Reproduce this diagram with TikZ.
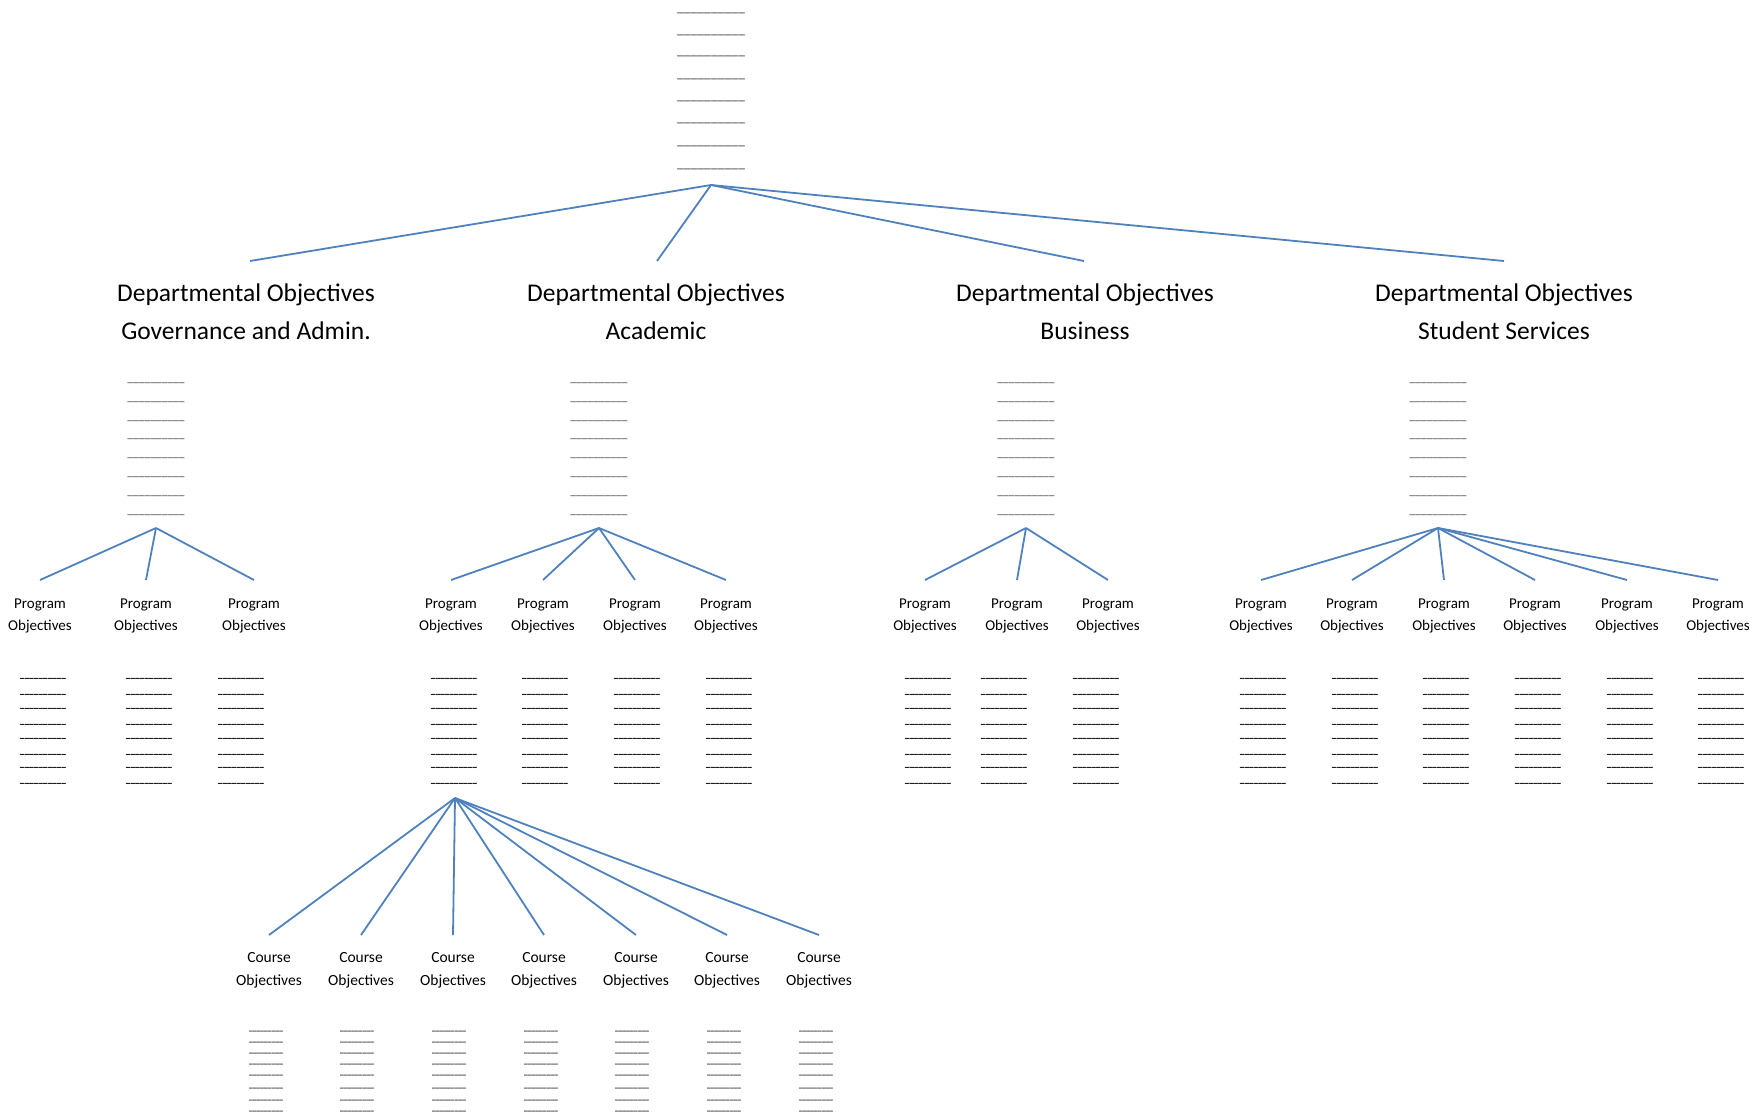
\documentclass[tikz,border=0pt]{standalone}
\usepackage{fontspec}
\setmainfont{Carlito}
\definecolor{linkblue}{RGB}{79,129,189}
\definecolor{dashgray}{RGB}{115,115,115}
\definecolor{dashdark}{RGB}{30,30,30}
\definecolor{dashmid}{RGB}{60,60,60}
\newcommand\dashrun[1]{\foreach\i in {1,...,#1}{–\kern-0.13em}\kern0.13em}
\begin{document}
\begin{tikzpicture}[x=1pt,y=-1pt,
  conn/.style={draw=linkblue,line width=1.8pt},
  dept/.style={align=center,inner sep=0pt,font=\fontsize{25.5}{38}\selectfont},
  prog/.style={align=center,inner sep=0pt,font=\fontsize{15}{22}\selectfont},
  course/.style={align=center,inner sep=0pt,font=\fontsize{15.5}{23}\selectfont},
  dashbase/.style={inner sep=0pt,anchor=base},
  topdash/.style={dashbase,yshift=-4.8pt,text=dashgray,font=\fontsize{18.5}{14}\selectfont},
  deptdash/.style={dashbase,yshift=-4pt,text=dashgray,font=\fontsize{15.5}{14}\selectfont},
  progdash/.style={dashbase,yshift=-3.3pt,text=dashdark,font=\bfseries\fontsize{12.5}{12}\selectfont},
  coursedash/.style={dashbase,yshift=-2.7pt,text=dashmid,font=\bfseries\fontsize{10.3}{10}\selectfont}]
\useasboundingbox (0,0) rectangle (1752,1117);

% top stack
\foreach \y [count=\k] in {14,36,57,80,102,124,147,170}
  \node[topdash] (top-\k) at (711,\y) {\dashrun{10}};
\coordinate (topj) at (711,185);

% departments
\foreach \x/\y/\t [count=\c] in {246/312/Governance and Admin.,656/312/Academic,1085/312/Business,1504/312/Student Services}
  \node[dept] (d\c) at (\x,\y) {Departmental Objectives\\\t};
\foreach \x [count=\c] in {250,657,1084,1504}
  \coordinate (dt\c) at (\x,261);
\foreach \c in {1,...,4}
  \draw[conn] (topj) -- (dt\c);

% department stacks
\foreach \x [count=\c] in {156,599,1026,1438}{
  \foreach \y [count=\k] in {383,402,421,439,458,477,496,515}
    \node[deptdash] (dd\c-\k) at (\x,\y) {\dashrun{10}};
  \coordinate (g\c) at (\x,528);
}

% program objectives
\foreach \x [count=\c] in {40,146,254,451,543,635,726,925,1017,1108,1261,1352,1444,1535,1627,1718}{
  \node[prog] (p\c) at (\x,616) {Program\\Objectives};
  \coordinate (pt\c) at (\x,580);
}
\foreach \c in {1,2,3} \draw[conn] (g1) -- (pt\c);
\foreach \c in {4,5,6,7} \draw[conn] (g2) -- (pt\c);
\foreach \c in {8,9,10} \draw[conn] (g3) -- (pt\c);
\foreach \c in {11,...,16} \draw[conn] (g4) -- (pt\c);

% program stacks
\foreach \x [count=\c] in {43,149,241,454,545,637,729,928,1004,1096,1263,1355,1446,1538,1630,1721}
  \foreach \y [count=\k] in {679,695,709,725,739,755,768,784}
    \node[progdash] (pd\c-\k) at (\x,\y) {\dashrun{10}};

% course objectives
\coordinate (cj) at (455,798);
\foreach \x [count=\c] in {269,361,453,544,636,727,819}{
  \node[course] (co\c) at (\x,970.5) {Course\\Objectives};
  \coordinate (ct\c) at (\x,935);
  \draw[conn] (cj) -- (ct\c);
}
\foreach \x [count=\c] in {266,357,449,541,632,724,816}
  \foreach \y [count=\k] in {1032,1043,1054,1065,1076,1089,1101,1112}
    \node[coursedash] (cd\c-\k) at (\x,\y) {\dashrun{9}};
\end{tikzpicture}
\end{document}
